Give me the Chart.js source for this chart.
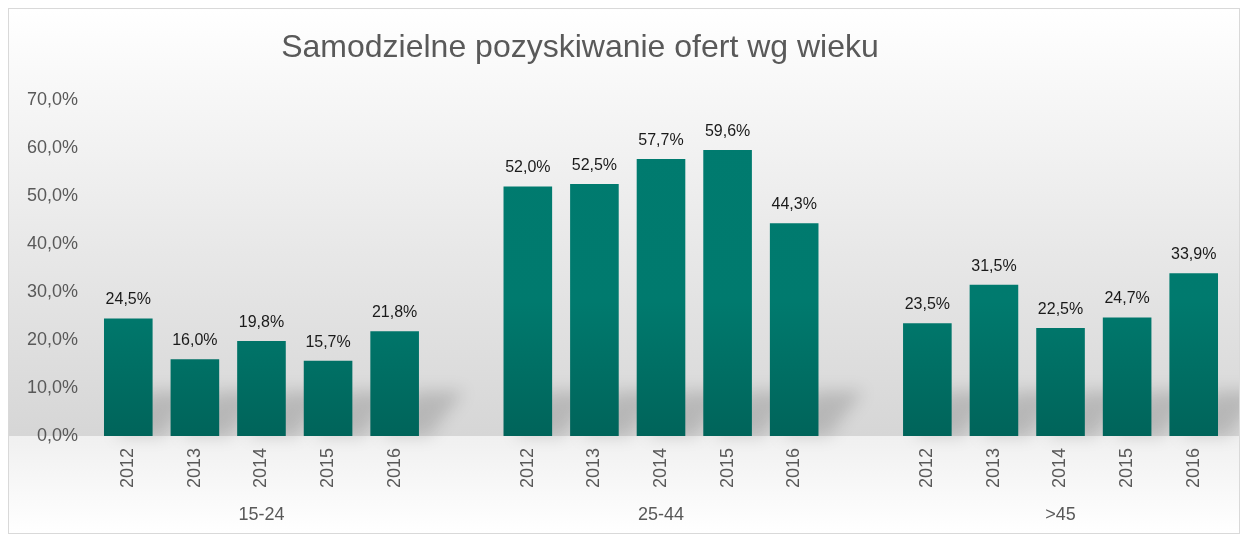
<!DOCTYPE html>
<html>
<head>
<meta charset="utf-8">
<script src="https://cdn.jsdelivr.net/npm/chart.js@4"></script>
<style>
  html, body { margin: 0; padding: 0; background: #ffffff; }
  #wrap {
    position: absolute; left: 8px; top: 8px;
    width: 1232px; height: 526px;
    box-sizing: border-box;
    border: 1px solid #d9d9d9;
  }
  #chart { display: block; }
</style>
</head>
<body>
<div id="wrap"><canvas id="chart" width="1230" height="524"></canvas></div>
<script>
// data
const groups = ['15-24', '25-44', '>45'];
const years = ['2012', '2013', '2014', '2015', '2016'];
const values1524 = [24.5, 16.0, 19.8, 15.7, 21.8];
const values2544 = [52.0, 52.5, 57.7, 59.6, 44.3];
const values45 = [23.5, 31.5, 22.5, 24.7, 33.9];
const yTicks = [0, 10, 20, 30, 40, 50, 60, 70];

// build 17 slots: 5 years per group with one empty slot between groups
const seriesByGroup = [values1524, values2544, values45];
const yearLabels = [];
const groupLabels = [];
const barValues = [];
seriesByGroup.forEach(function(vals, g) {
    if (g > 0) { yearLabels.push(''); groupLabels.push(''); barValues.push(null); }
    years.forEach(function(y, i) {
        yearLabels.push(y);
        groupLabels.push(i === 2 ? groups[g] : '');
        barValues.push(vals[i]);
    });
});

const FONT = "'Liberation Sans', Arial, sans-serif";
const fmt = v => v.toFixed(1).replace('.', ',') + '%';

const backgroundPlugin = {
    id: 'bg',
    beforeDraw(chart) {
        const ctx = chart.ctx, a = chart.chartArea;
        ctx.save();
        let g = ctx.createLinearGradient(0, 0, 0, a.bottom);
        g.addColorStop(0, '#ffffff');
        g.addColorStop(1, '#d6d6d6');
        ctx.fillStyle = g;
        ctx.fillRect(0, 0, chart.width, a.bottom);
        g = ctx.createLinearGradient(0, a.bottom, 0, chart.height);
        g.addColorStop(0, '#f0f0f0');
        g.addColorStop(1, '#ffffff');
        ctx.fillStyle = g;
        ctx.fillRect(0, a.bottom, chart.width, chart.height - a.bottom);
        // title
        ctx.fillStyle = '#595959';
        ctx.font = '32px ' + FONT;
        ctx.textAlign = 'center';
        ctx.textBaseline = 'middle';
        ctx.fillText('Samodzielne pozyskiwanie ofert wg wieku', 571, 39);
        ctx.restore();
    },
    beforeDatasetsDraw(chart) {
        // soft shadow at bar bases
        const ctx = chart.ctx;
        const meta = chart.getDatasetMeta(0);
        ctx.save();
        ctx.filter = 'blur(8px)';
        ctx.fillStyle = 'rgba(0,0,0,0.15)';
        meta.data.forEach(function(bar, i) {
            if (barValues[i] == null) return;
            const l = bar.x - bar.width / 2, r = bar.x + bar.width / 2, b = bar.base;
            ctx.beginPath();
            ctx.moveTo(l + 10, b);
            ctx.lineTo(r + 10, b);
            ctx.lineTo(r + 45, b - 45);
            ctx.lineTo(l + 45, b - 45);
            ctx.closePath();
            ctx.fill();
        });
        ctx.restore();
    },
    afterDatasetsDraw(chart) {
        const ctx = chart.ctx;
        const meta = chart.getDatasetMeta(0);
        ctx.save();
        ctx.fillStyle = '#1a1a1a';
        ctx.font = '16px ' + FONT;
        ctx.textAlign = 'center';
        ctx.textBaseline = 'alphabetic';
        meta.data.forEach(function(bar, i) {
            if (barValues[i] == null) return;
            ctx.fillText(fmt(barValues[i]), bar.x, bar.y - 14);
        });
        ctx.restore();
    }
};

let barGradient = null;
new Chart(document.getElementById('chart').getContext('2d'), {
    type: 'bar',
    data: {
        labels: yearLabels,
        datasets: [{
            data: barValues,
            backgroundColor: function(c) {
                const a = c.chart.chartArea;
                if (!a) return '#007a6e';
                if (!barGradient) {
                    barGradient = c.chart.ctx.createLinearGradient(0, a.top, 0, a.bottom);
                    barGradient.addColorStop(0, '#007b6f');
                    barGradient.addColorStop(0.6, '#007a6e');
                    barGradient.addColorStop(1, '#00645a');
                }
                return barGradient;
            },
            barPercentage: 0.73,
            categoryPercentage: 1
        }]
    },
    options: {
        responsive: false,
        animation: false,
        layout: { padding: { top: 91, right: 12, left: 0, bottom: 0 } },
        plugins: {
            legend: { display: false },
            tooltip: { enabled: false }
        },
        scales: {
            y: {
                min: 0, max: 70,
                afterBuildTicks: s => { s.ticks = yTicks.map(v => ({ value: v })); },
                afterFit: s => { s.width = 86; },
                grid: { display: false },
                border: { display: false },
                ticks: { padding: 9, color: '#595959', font: { size: 18, family: FONT }, callback: v => fmt(v) }
            },
            x: {
                weight: 0,
                afterFit: s => { s.height = 59; },
                grid: { display: false },
                border: { display: false },
                ticks: { autoSkip: false, minRotation: 90, maxRotation: 90, padding: 4, color: '#595959', font: { size: 18, family: FONT } }
            },
            group: {
                type: 'category',
                position: 'bottom',
                weight: 1,
                labels: groupLabels,
                afterFit: s => { s.height = 38; },
                grid: { display: false },
                border: { display: false },
                ticks: { autoSkip: false, maxRotation: 0, padding: 1, color: '#595959', font: { size: 18, family: FONT } }
            }
        }
    },
    plugins: [backgroundPlugin]
});
</script>
</body>
</html>
